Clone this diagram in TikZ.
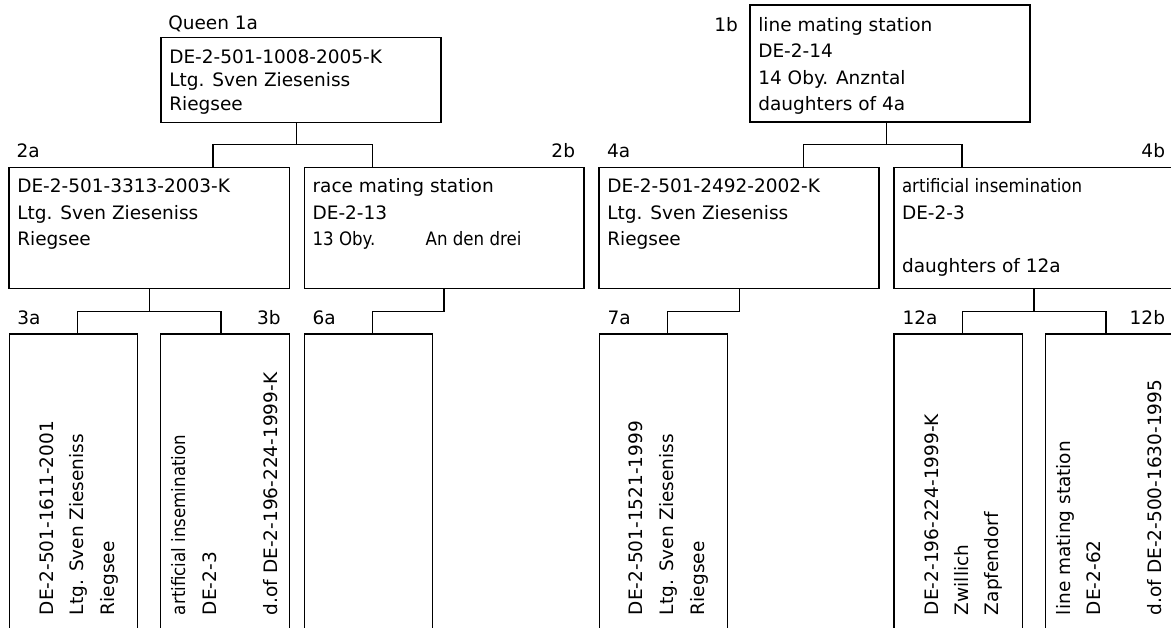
\documentclass[tikz,border=0pt]{standalone}
\usepackage{fontspec}
\setmainfont{DejaVu Sans}
\newfontfamily\condfont{DejaVu Sans}[FakeStretch=0.9]
\begin{document}
\begin{tikzpicture}[x=1pt,y=-1pt,
  box/.style={draw=black, line width=1.3pt, inner sep=0pt, outer sep=0pt, anchor=north west},
  boxtwo/.style={box, minimum width=280pt, minimum height=120.6pt},
  boxthree/.style={box, minimum width=128.5pt, minimum height=320pt},
  conn/.style={line width=1.3pt, draw=black},
  txt/.style={inner sep=0pt, outer sep=0pt, anchor=base west, font=\fontsize{18.5}{22}\selectfont},
  ctxt/.style={txt, font=\fontsize{18.5}{22}\condfont},
  rlbl/.style={txt, anchor=base east},
  vtxt/.style={txt, rotate=90},
  cvtxt/.style={ctxt, rotate=90}]
\useasboundingbox (0,0) rectangle (1171,628);
\fill[white] (0,0) rectangle (1171,628);
\clip (0,0) rectangle (1171,628);

% ---------- boxes ----------
\node[box, minimum width=280pt, minimum height=85pt] (n1a) at (161,37.3) {};
\node[box, minimum width=280pt, minimum height=117pt] (n1b) at (750,5) {};
\node[boxtwo, minimum width=280.5pt] (n2a) at (9,167.7) {};
\node[boxtwo, minimum width=279.7pt] (n2b) at (304.3,167.7) {};
\node[boxtwo] (n4a) at (599,167.7) {};
\node[boxtwo] (n4b) at (894,167.7) {};
\node[boxthree] (n3a) at (9.3,334) {};
\node[boxthree] (n3b) at (160.7,334) {};
\node[boxthree] (n6a) at (304.3,334) {};
\node[boxthree] (n7a) at (599.3,334) {};
\node[boxthree] (n12a) at (894,334) {};
\node[boxthree] (n12b) at (1045.7,334) {};

% ---------- connectors ----------
\coordinate (j1a) at (296.7,144.5);
\coordinate (j1b) at (886.7,144.5);
\coordinate (j2a) at (149.3,311.7);
\coordinate (j2b) at (444,311.5);
\coordinate (j4a) at (739.3,311.5);
\coordinate (j4b) at (1034,311.7);
\draw[conn] (n1a.south -| j1a) -- (j1a);
\draw[conn] ([xshift=204pt]n2a.north west) |- (j1a) -| ([xshift=68.2pt]n2b.north west);
\draw[conn] (n1b.south -| j1b) -- (j1b);
\draw[conn] ([xshift=204.3pt]n4a.north west) |- (j1b) -| ([xshift=68pt]n4b.north west);
\draw[conn] (n2a.south -| j2a) -- (j2a);
\draw[conn] ([xshift=68pt]n3a.north west) |- (j2a) -| ([xshift=60.3pt]n3b.north west);
\draw[conn] (n2b.south -| j2b) -- (j2b) -| ([xshift=68.2pt]n6a.north west);
\draw[conn] (n4a.south -| j4a) -- (j4a) -| ([xshift=68pt]n7a.north west);
\draw[conn] (n4b.south -| j4b) -- (j4b);
\draw[conn] ([xshift=68.3pt]n12a.north west) |- (j4b) -| ([xshift=60.3pt]n12b.north west);

% ---------- row 1 texts ----------
\node[txt] (l1a) at (168.3,30) {Queen 1a};
\node[txt] (t1a1) at (169.3,63.3) {DE-2-501-1008-2005-K};
\node[txt] (t1a2) at (169.3,86.8) {Ltg. Sven Zieseniss};
\node[txt] (t1a3) at (169.3,110.3) {Riegsee};
\node[txt] (l1b) at (714.3,31.3) {1b};
\node[txt] (t1b1) at (758.3,31.3) {line mating station};
\node[txt] (t1b2) at (758.3,57.7) {DE-2-14};
\node[txt] (t1b3) at (758.3,84.3) {14 Oby. Anzntal};
\node[txt] (t1b4) at (758.3,111) {daughters of 4a};

% ---------- row 2 texts ----------
\node[txt] (l2a) at (16.7,157.7) {2a};
\node[rlbl] (l2b) at (575,157.7) {2b};
\node[txt] (l4a) at (607,157.7) {4a};
\node[rlbl] (l4b) at (1165,157.7) {4b};
\node[txt] (t2a1) at (17.3,192.7) {DE-2-501-3313-2003-K};
\node[txt] (t2a2) at (17.3,219.3) {Ltg. Sven Zieseniss};
\node[txt] (t2a3) at (17.3,246) {Riegsee};
\node[txt] (t2b1) at (312.6,192.7) {race mating station};
\node[txt] (t2b2) at (312.6,219.3) {DE-2-13};
\node[ctxt] (t2b3) at (312.6,246) {13 Oby.};
\node[ctxt] (t2b4) at (425.7,246) {An den drei};
\node[txt] (t4a1) at (607.3,192.7) {DE-2-501-2492-2002-K};
\node[txt] (t4a2) at (607.3,219.3) {Ltg. Sven Zieseniss};
\node[txt] (t4a3) at (607.3,246) {Riegsee};
\node[ctxt] (t4b1) at (902,192.7) {artificial insemination};
\node[txt] (t4b2) at (902,219.3) {DE-2-3};
\node[txt] (t4b3) at (902,272.7) {daughters of 12a};

% ---------- row 3 labels ----------
\node[txt] (l3a) at (17.3,325) {3a};
\node[rlbl] (l3b) at (280.7,325) {3b};
\node[txt] (l6a) at (312.7,325) {6a};
\node[txt] (l7a) at (607.7,325) {7a};
\node[txt] (l12a) at (902.7,325) {12a};
\node[rlbl] (l12b) at (1165,325) {12b};

% ---------- row 3 rotated texts ----------
\node[vtxt] (t3a1) at (53.3,615) {DE-2-501-1611-2001};
\node[vtxt] (t3a2) at (83.8,615) {Ltg. Sven Zieseniss};
\node[vtxt] (t3a3) at (114.3,615) {Riegsee};
\node[cvtxt] (t3b1) at (185,615) {artificial insemination};
\node[vtxt] (t3b2) at (216,615) {DE-2-3};
\node[vtxt] (t3b3) at (277,615) {d.of DE-2-196-224-1999-K};
\node[vtxt] (t7a1) at (642.7,615) {DE-2-501-1521-1999};
\node[vtxt] (t7a2) at (673.3,615) {Ltg. Sven Zieseniss};
\node[vtxt] (t7a3) at (704,615) {Riegsee};
\node[vtxt] (t12a1) at (938.3,615) {DE-2-196-224-1999-K};
\node[vtxt] (t12a2) at (968.3,615) {Zwillich};
\node[vtxt] (t12a3) at (998.3,615) {Zapfendorf};
\node[vtxt] (t12b1) at (1070,615) {line mating station};
\node[vtxt] (t12b2) at (1100,615) {DE-2-62};
\node[vtxt] (t12b3) at (1161.7,615) {d.of DE-2-500-1630-1995};
\end{tikzpicture}
\end{document}
